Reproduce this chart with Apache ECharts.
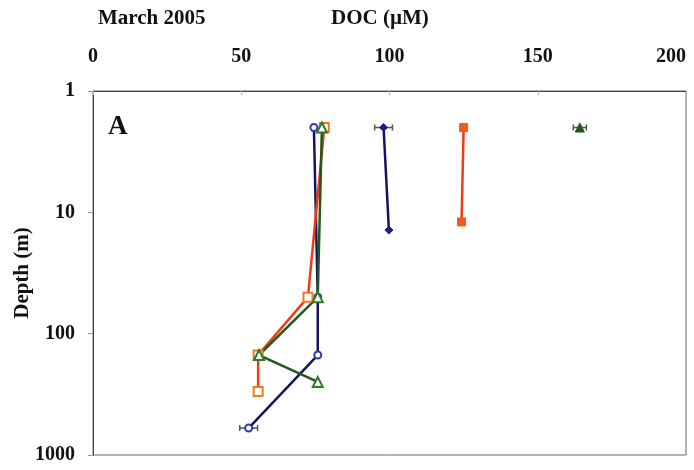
<!DOCTYPE html>
<html lang="en" style="height: 100%">
<head>
  <meta charset="utf-8">
</head>
<body style="height: 100%; margin: 0; background: #fff">
  <div id="container" style="width: 694px; height: 470px"></div>
  <script type="text/javascript" src="https://cdn.jsdelivr.net/npm/echarts@6/dist/echarts.min.js"></script>
  <script type="text/javascript">
    // depth (m) and DOC (uM) per profile
    var openBlueDepth = [2, 50, 150, 600];
    var openBlueDoc = [74.5, 75.8, 75.8, 52.5];
    var openOrangeDepth = [2, 50, 150, 300];
    var openOrangeDoc = [78, 72.5, 55.7, 55.7];
    var openGreenDepth = [2, 50, 150, 250];
    var openGreenDoc = [77.2, 75.8, 56, 75.8];
    var fullBlueDepth = [2, 14];
    var fullBlueDoc = [98, 99.8];
    var fullRedDepth = [2, 12];
    var fullRedDoc = [125, 124.3];
    var fullGreenDepth = [2];
    var fullGreenDoc = [164.2];
    // error bars: [DOC, depth, +/-]
    var errorBars = [[98, 2, 3], [52.5, 600, 3], [164.2, 2, 2.2]];
    var xTicks = [0, 50, 100, 150, 200];

    var dom = document.getElementById('container');
    var myChart = echarts.init(dom, null, { renderer: 'canvas' });
    var font = 'Liberation Serif';

    function pairs(xs, ys) {
      var out = [];
      for (var i = 0; i < xs.length; i++) out.push([xs[i], ys[i]]);
      return out;
    }

    function profile(doc, depth, symbol, size, lineColor, markColor, filled) {
      return {
        type: 'line',
        data: pairs(doc, depth),
        symbol: symbol,
        symbolSize: size,
        showAllSymbol: true,
        z: 3,
        lineStyle: { color: lineColor, width: 2.5 },
        itemStyle: {
          color: filled ? markColor : '#fff',
          borderColor: markColor,
          borderWidth: filled ? 1 : 2
        },
        emphasis: { disabled: true }
      };
    }

    var option = {
      animation: false,
      backgroundColor: '#fff',
      grid: {
        left: 93, right: 8, top: 91, bottom: 15,
        outerBoundsMode: 'none',
        containLabel: false,
        show: true, borderColor: '#666', borderWidth: 1
      },
      graphic: [
        { type: 'text', left: 98, top: 8, style: { text: 'March 2005', font: 'bold 21px ' + font, fill: '#111' } },
        { type: 'text', left: 331, top: 8, style: { text: 'DOC (\u00b5M)', font: 'bold 21px ' + font, fill: '#111' } },
        { type: 'text', left: 108, top: 114, style: { text: 'A', font: 'bold 27px ' + font, fill: '#111' } }
      ],
      xAxis: {
        type: 'value',
        position: 'top',
        min: 0, max: 200, interval: 50,
        axisLine: { show: true, lineStyle: { color: '#444' } },
        axisTick: { show: true, inside: true, length: 4, lineStyle: { color: '#bbb' } },
        splitLine: { show: false },
        axisLabel: {
          margin: 24, color: '#111', fontFamily: font, fontWeight: 'bold', fontSize: 20,
          formatter: function (v) { return xTicks.indexOf(v) >= 0 ? String(v) : ''; },
          alignMaxLabel: 'right'
        }
      },
      yAxis: {
        type: 'log',
        logBase: 10,
        inverse: true,
        min: 1, max: 1000,
        name: 'Depth (m)',
        nameLocation: 'middle',
        nameGap: 60,
        nameMoveOverlap: false,
        nameRotate: 90,
        nameTextStyle: { color: '#111', fontFamily: font, fontWeight: 'bold', fontSize: 21 },
        axisLine: { show: true, lineStyle: { color: '#444' } },
        axisTick: { show: true, length: 5, lineStyle: { color: '#999' } },
        splitLine: { show: false },
        axisLabel: {
          margin: 18, color: '#111', fontFamily: font, fontWeight: 'bold', fontSize: 20,
          formatter: function (v) { return String(Math.round(v)); }
        }
      },
      series: [
        profile(openBlueDoc, openBlueDepth, 'circle', 7, '#14145e', '#2a3aa8', false),
        profile(openOrangeDoc, openOrangeDepth, 'rect', 9, '#f03a10', '#f07a20', false),
        profile(openGreenDoc, openGreenDepth, 'triangle', 10, '#1f5a1a', '#2e7a2a', false),
        profile(fullBlueDoc, fullBlueDepth, 'diamond', 8, '#14145e', '#1a2580', true),
        profile(fullRedDoc, fullRedDepth, 'rect', 8, '#f03a10', '#f25a20', true),
        profile(fullGreenDoc, fullGreenDepth, 'triangle', 9, '#1f5a1a', '#1f5a1a', true),
        {
          type: 'custom',
          z: 2,
          data: errorBars,
          renderItem: function (params, api) {
            var x = api.value(0), y = api.value(1), e = api.value(2);
            var a = api.coord([x - e, y]);
            var b = api.coord([x + e, y]);
            var c = 3;
            var st = { stroke: '#555', lineWidth: 1.5 };
            return {
              type: 'group',
              children: [
                { type: 'line', shape: { x1: a[0], y1: a[1], x2: b[0], y2: b[1] }, style: st },
                { type: 'line', shape: { x1: a[0], y1: a[1] - c, x2: a[0], y2: a[1] + c }, style: st },
                { type: 'line', shape: { x1: b[0], y1: b[1] - c, x2: b[0], y2: b[1] + c }, style: st }
              ]
            };
          }
        }
      ]
    };

    myChart.setOption(option);
    window.addEventListener('resize', myChart.resize);
  </script>
</body>
</html>
